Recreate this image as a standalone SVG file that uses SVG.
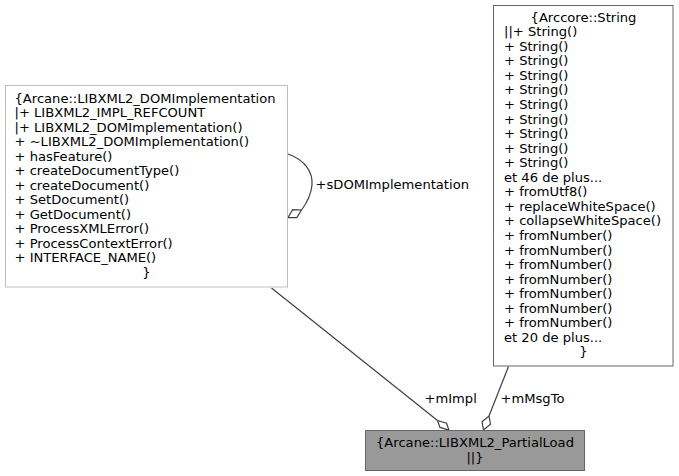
<svg xmlns="http://www.w3.org/2000/svg" width="679" height="476" viewBox="0 0 679 476">
<style>
text{font-family:"DejaVu Sans",sans-serif;font-size:13.1px;fill:#000}
.c{text-anchor:middle}
.edge{fill:none;stroke:#404040;stroke-width:1.2}
.dia{fill:#fff;stroke:#404040;stroke-width:1.2}
</style>
<rect width="679" height="476" fill="#fff"/>
<g id="connectors">
<path class="edge" d="M271.5,288 L437.5,420.5"/>
<polygon class="dia" points="437.5,420.5 446.5,423.2 449,430 440,427.4"/>
<path class="edge" d="M508.5,366.5 L489,416"/>
<polygon class="dia" points="489,416 490.5,424.2 483.5,430 482,421.7"/>
<path class="edge" d="M288,154 C305,160 313,172 312,185 C311,196 306,204 301.5,210"/>
<polygon class="dia" points="301.5,210 296.8,217.6 288,217.6 292.6,209.6"/>
<text x="315.5" y="189">+sDOMImplementation</text>
<text x="424.5" y="403">+mImpl</text>
<text x="500.5" y="403">+mMsgTo</text>
</g>
<g id="node-LIBXML2_DOMImplementation">
<rect x="5.5" y="85.5" width="282" height="201.5" fill="#fff" stroke="#bfbfbf"/>
<text x="14.5" y="102.7">{Arcane::LIBXML2_DOMImplementation<tspan x="14.5" dy="14.5">|+ LIBXML2_IMPL_REFCOUNT</tspan><tspan x="14.5" dy="14.5">|+ LIBXML2_DOMImplementation()</tspan><tspan x="14.5" dy="14.5">+ ~LIBXML2_DOMImplementation()</tspan><tspan x="14.5" dy="14.5">+ hasFeature()</tspan><tspan x="14.5" dy="14.5">+ createDocumentType()</tspan><tspan x="14.5" dy="14.5">+ createDocument()</tspan><tspan x="14.5" dy="14.5">+ SetDocument()</tspan><tspan x="14.5" dy="14.5">+ GetDocument()</tspan><tspan x="14.5" dy="14.5">+ ProcessXMLError()</tspan><tspan x="14.5" dy="14.5">+ ProcessContextError()</tspan><tspan x="14.5" dy="14.5">+ INTERFACE_NAME()</tspan></text>
<text class="c" x="146.5" y="276.7">}</text>
</g>
<g id="node-String">
<rect x="493.5" y="5.5" width="179.5" height="360.5" fill="#fff" stroke="#666666"/>
<text class="c" x="583.5" y="21.7">{Arccore::String</text>
<text x="504" y="36.25">||+ String()<tspan x="504" dy="14.55">+ String()</tspan><tspan x="504" dy="14.55">+ String()</tspan><tspan x="504" dy="14.55">+ String()</tspan><tspan x="504" dy="14.55">+ String()</tspan><tspan x="504" dy="14.55">+ String()</tspan><tspan x="504" dy="14.55">+ String()</tspan><tspan x="504" dy="14.55">+ String()</tspan><tspan x="504" dy="14.55">+ String()</tspan><tspan x="504" dy="14.55">+ String()</tspan><tspan x="504" dy="14.55">et 46 de plus...</tspan><tspan x="504" dy="14.55">+ fromUtf8()</tspan><tspan x="504" dy="14.55">+ replaceWhiteSpace()</tspan><tspan x="504" dy="14.55">+ collapseWhiteSpace()</tspan><tspan x="504" dy="14.55">+ fromNumber()</tspan><tspan x="504" dy="14.55">+ fromNumber()</tspan><tspan x="504" dy="14.55">+ fromNumber()</tspan><tspan x="504" dy="14.55">+ fromNumber()</tspan><tspan x="504" dy="14.55">+ fromNumber()</tspan><tspan x="504" dy="14.55">+ fromNumber()</tspan><tspan x="504" dy="14.55">+ fromNumber()</tspan><tspan x="504" dy="14.55">et 20 de plus...</tspan></text>
<text class="c" x="583.5" y="356.35">}</text>
</g>
<g id="node-LIBXML2_PartialLoad">
<rect x="365.5" y="430.5" width="219" height="40" fill="#999999" stroke="#666666"/>
<text class="c" x="475" y="447">{Arcane::LIBXML2_PartialLoad</text>
<text class="c" x="475" y="461.5">||}</text>
</g>
</svg>
